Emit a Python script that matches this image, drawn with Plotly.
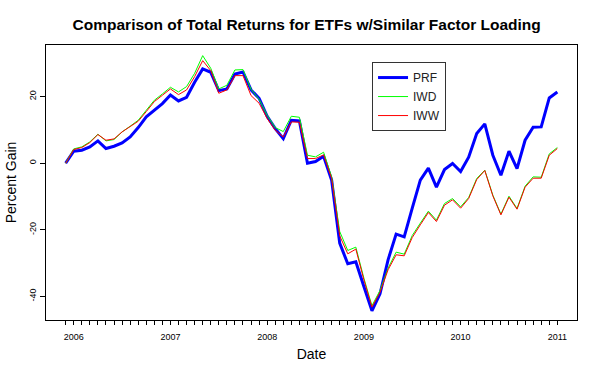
import pandas as pd
import plotly.graph_objects as go

# Monthly observations, Dec 2005 .. Jan 2011
months = list(pd.date_range("2005-12-31", periods=62, freq="ME").strftime("%Y-%m"))

prf = [0.0, 3.6, 3.9, 4.9, 6.7, 4.4, 5.1, 6.1, 7.9, 10.7,
       13.9, 15.9, 17.9, 20.5, 18.7, 19.8, 24.3, 28.3, 27.3, 21.8,
       22.3, 26.8, 27.4, 22.0, 19.5, 14.1, 10.4, 7.4, 12.9, 12.7,
       0.0, 0.5, 2.1, -5.1, -24.0, -30.2, -29.6, -37.0, -44.3, -39.2,
       -29.0, -21.3, -22.1, -13.5, -5.1, -1.5, -7.2, -1.9, -0.1, -2.5,
       1.8, 8.9, 11.8, 2.4, -3.6, 3.6, -1.6, 6.9, 10.8, 10.9,
       19.6, 21.4]

iwd = [0.0, 4.3, 4.9, 6.4, 8.7, 6.7, 7.1, 9.4, 11.1, 12.9,
       15.9, 18.9, 20.8, 22.8, 21.4, 23.0, 27.0, 32.3, 28.5, 22.3,
       23.4, 28.0, 28.1, 22.2, 19.2, 14.4, 10.7, 9.5, 14.1, 13.8,
       2.4, 1.9, 3.3, -4.1, -20.5, -26.2, -25.2, -34.5, -42.8, -38.2,
       -31.5, -26.7, -27.3, -21.7, -18.0, -14.4, -17.1, -12.1, -10.6, -13.1,
       -10.3, -4.6, -2.1, -9.6, -15.3, -9.9, -13.6, -6.9, -4.1, -4.2,
       2.8, 4.7]

iww = [0.0, 4.1, 4.7, 6.2, 8.6, 6.9, 7.3, 9.4, 11.0, 12.6,
       15.5, 18.5, 20.4, 22.3, 20.6, 22.0, 26.0, 30.8, 27.8, 21.0,
       22.0, 26.3, 26.3, 20.3, 18.0, 13.4, 9.9, 7.9, 12.4, 12.3,
       1.4, 1.4, 2.5, -4.6, -21.8, -27.2, -25.8, -35.0, -43.2, -38.8,
       -32.0, -27.5, -27.8, -22.3, -18.5, -14.8, -17.5, -12.6, -11.0, -13.5,
       -10.6, -4.9, -2.2, -9.8, -15.5, -10.2, -13.8, -7.2, -4.5, -4.5,
       2.4, 4.4]

y_ticks = [-40, -20, 0, 20]

x = list(range(len(months)))
tick_text = [m[:4] if m.endswith("-01") else "" for m in months]

font_family = "Liberation Sans, Arial, sans-serif"

fig = go.Figure()
fig.add_trace(go.Scatter(x=x, y=prf, mode="lines", name="PRF",
                         line=dict(color="#0000FF", width=3)))
fig.add_trace(go.Scatter(x=x, y=iwd, mode="lines", name="IWD",
                         line=dict(color="#00FF00", width=1)))
fig.add_trace(go.Scatter(x=x, y=iww, mode="lines", name="IWW",
                         line=dict(color="#FF0000", width=1)))

fig.update_layout(
    width=601, height=376,
    paper_bgcolor="white", plot_bgcolor="white",
    margin=dict(l=46, r=24, t=45, b=56),
    font=dict(family=font_family, color="black"),
    title=dict(text="<b>Comparison of Total Returns for ETFs w/Similar Factor Loading</b>",
               x=0.5103, xref="container", xanchor="center",
               y=0.9348, yref="container", yanchor="middle",
               font=dict(size=15.5, family=font_family, color="black")),
    showlegend=True,
    legend=dict(x=0.614, y=0.938, xanchor="left", yanchor="top",
                bordercolor="#333333", borderwidth=1, bgcolor="white",
                font=dict(size=12, family=font_family, color="#222222"),
                itemwidth=30, tracegroupgap=0),
)

fig.update_xaxes(
    range=[-2.44, 63.44],
    tickmode="array", tickvals=x, ticktext=tick_text,
    ticks="outside", ticklen=4, tickcolor="black", tickwidth=1,
    showline=True, linecolor="black", linewidth=1, mirror=True,
    showgrid=False, zeroline=False,
    tickfont=dict(size=9, family=font_family),
    ticklabelstandoff=4,
    title=dict(text="Date", font=dict(size=14, family=font_family), standoff=8),
)
fig.update_yaxes(
    range=[-47.07, 35.49],
    tickmode="array", tickvals=y_ticks, ticktext=[str(v) for v in y_ticks],
    ticks="outside", ticklen=5, tickcolor="black", tickwidth=1,
    tickangle=-90,
    showline=True, linecolor="black", linewidth=1, mirror=True,
    showgrid=False, zeroline=False,
    tickfont=dict(size=9, family=font_family),
    title=dict(text="Percent Gain", font=dict(size=14, family=font_family), standoff=8),
)

fig.write_html("out.html",
               config={"displayModeBar": False, "staticPlot": True},
               post_script="document.body.style.margin='0px';document.body.style.overflow='hidden';")
